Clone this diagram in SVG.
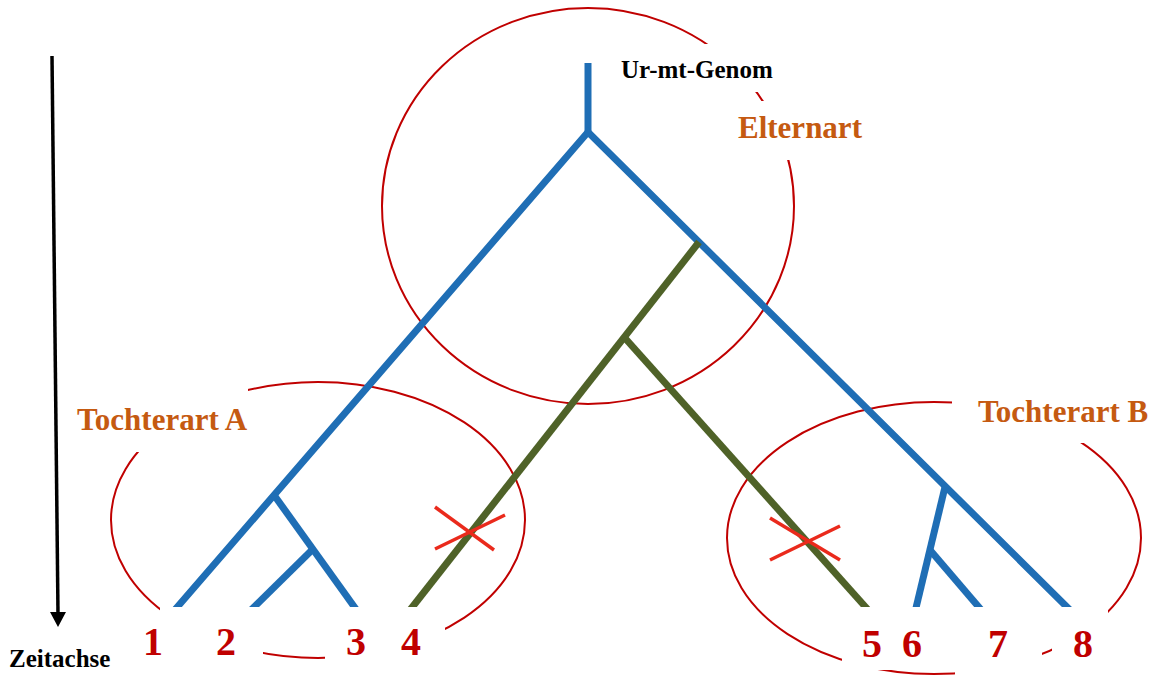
<svg xmlns="http://www.w3.org/2000/svg" width="1159" height="676" viewBox="0 0 1159 676">
<style>
.ell{fill:none;stroke:#c00000;stroke-width:2}
.blue{fill:none;stroke:#1f6eb5;stroke-width:7;stroke-linejoin:miter}
.green{fill:none;stroke:#4f6228;stroke-width:7}
.cross{fill:none;stroke:#ea2a1c;stroke-width:3.5}
.bg{fill:#ffffff;stroke:none}
.num{font-family:"Liberation Serif",serif;font-weight:bold;font-size:40px;fill:#c00000;text-anchor:middle}
.sp{font-family:"Liberation Serif",serif;font-weight:bold;font-size:31px;fill:#c55a11}
.blk{font-family:"Liberation Serif",serif;font-weight:bold;font-size:25px;fill:#000000}
</style>
<rect width="1159" height="676" fill="#ffffff"/>
<g id="species-circles">
<ellipse id="elternart-circle" class="ell" cx="588" cy="206" rx="206" ry="198"/>
<ellipse id="tochterart-a-circle" class="ell" cx="318" cy="520" rx="207" ry="138"/>
<ellipse id="tochterart-b-circle" class="ell" cx="934" cy="538" rx="207" ry="136"/>
</g>
<g id="connectors">
<line class="blue" x1="588" y1="63" x2="588" y2="134"/>
<polyline class="blue" points="173,612 588,132 1071,611"/>
<polyline class="blue" points="274,495 358,612"/>
<line class="blue" x1="312" y1="550" x2="249" y2="612"/>
<line class="blue" x1="945" y1="487" x2="915" y2="612"/>
<line class="blue" x1="930" y1="550" x2="983" y2="612"/>
<line class="green" x1="699" y1="242" x2="410" y2="610"/>
<line class="green" x1="624" y1="337" x2="870" y2="612"/>
<line class="cross" x1="435" y1="507" x2="494" y2="550"/>
<line class="cross" x1="435" y1="549" x2="505" y2="515"/>
<line class="cross" x1="770" y1="518" x2="840" y2="560"/>
<line class="cross" x1="770" y1="560" x2="840" y2="526"/>
<line x1="52" y1="56" x2="58" y2="614" stroke="#000000" stroke-width="3.5"/>
<polygon points="50,612 66,612 58,627" fill="#000000"/>
</g>
<g id="node-ur-mt-genom">
<rect class="bg" x="610" y="44" width="180" height="48"/>
<text class="blk" x="621" y="78">Ur-mt-Genom</text>
</g>
<g id="node-elternart">
<rect class="bg" x="725" y="101" width="145" height="59"/>
<text class="sp" x="738" y="138">Elternart</text>
</g>
<g id="node-tochterart-a">
<rect class="bg" x="70" y="372" width="178" height="80"/>
<text class="sp" x="77" y="430">Tochterart A</text>
</g>
<g id="node-tochterart-b">
<rect class="bg" x="952" y="390" width="207" height="53"/>
<text class="sp" x="978" y="422">Tochterart B</text>
</g>
<g id="node-zeitachse">
<text class="blk" x="9" y="667">Zeitachse</text>
</g>
<g id="node-leaves-a">
<rect class="bg" x="160" y="607" width="103" height="69"/>
<rect class="bg" x="325" y="607" width="120" height="69"/>
<text class="num" x="153" y="655">1</text>
<text class="num" x="226" y="655">2</text>
<text class="num" x="356" y="655">3</text>
<text class="num" x="411" y="655">4</text>
</g>
<g id="node-leaves-b">
<rect class="bg" x="842" y="607" width="113" height="63"/>
<rect class="bg" x="955" y="607" width="87" height="69"/>
<rect class="bg" x="1052" y="607" width="56" height="69"/>
<text class="num" x="872" y="657">5</text>
<text class="num" x="912" y="657">6</text>
<text class="num" x="998" y="657">7</text>
<text class="num" x="1083" y="657">8</text>
</g>
</svg>
